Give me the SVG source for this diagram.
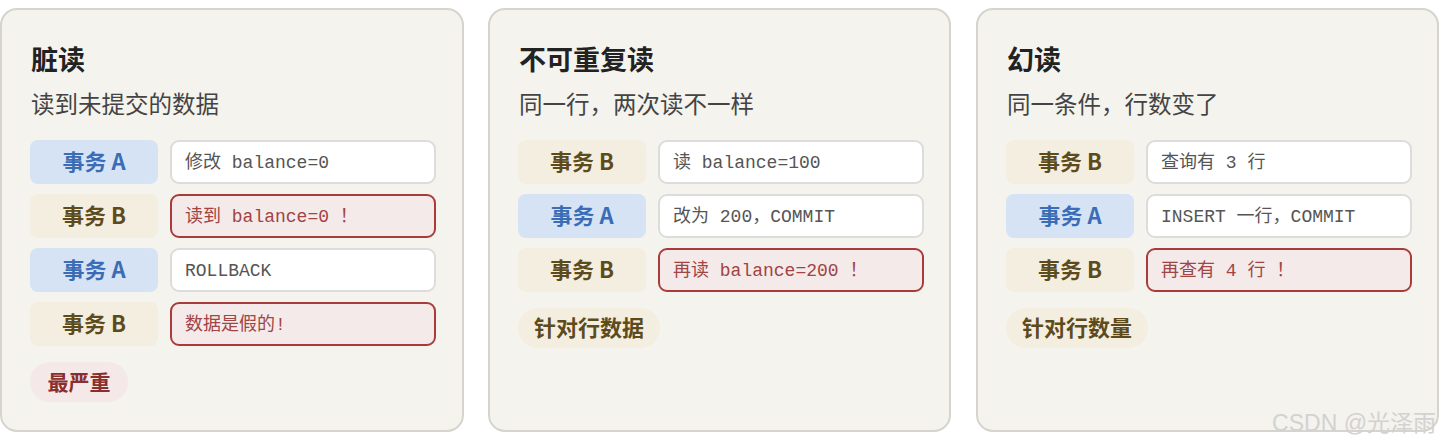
<svg xmlns="http://www.w3.org/2000/svg" width="1440" height="448" viewBox="0 0 1440 448">
<style>
.card{fill:#f4f3ed;stroke:#d6d4cc;stroke-width:2}
.title{font-family:"Noto Sans CJK SC",sans-serif;font-size:27px;font-weight:700;fill:#222}
.sub{font-family:"Noto Sans CJK SC",sans-serif;font-size:23.5px;fill:#444}
.tagA{fill:#d6e3f4}
.tagB{fill:#f4eee0}
.tA{font-family:"Noto Sans CJK SC",sans-serif;font-size:22px;font-weight:700;fill:#3a6db5;text-anchor:middle}
.tB{font-family:"Noto Sans CJK SC",sans-serif;font-size:22px;font-weight:700;fill:#5e4b1c;text-anchor:middle}
.box{fill:#fff;stroke:#dcdcdc;stroke-width:2}
.bad{fill:#f5eaea;stroke:#a83c3a;stroke-width:2}
.code{font-family:"Liberation Mono","Noto Sans CJK SC",monospace;font-size:18px;fill:#555}
.codeR{font-family:"Liberation Mono","Noto Sans CJK SC",monospace;font-size:18px;fill:#a04444}
.pillR{fill:#f5e8e8}
.pillB{fill:#f4eee0}
.pR{font-family:"Noto Sans CJK SC",sans-serif;font-size:21px;font-weight:700;fill:#8b2e2e;text-anchor:middle}
.pB{font-family:"Noto Sans CJK SC",sans-serif;font-size:22px;font-weight:700;fill:#5e4b1c;text-anchor:middle}
.wm{font-family:"Liberation Sans","Noto Sans CJK SC",sans-serif;font-size:23px;fill:#d2d2d2;text-anchor:end}
</style>
<g id="dirty-read">
<rect class="card" x="1" y="9" width="462" height="422" rx="16"/>
<text class="title" x="31" y="70">脏读</text>
<text class="sub" x="31" y="113">读到未提交的数据</text>
<rect class="tagA" x="30" y="140" width="128" height="44" rx="8"/>
<text class="tA" x="94" y="170">事务 A</text>
<rect class="box" x="171" y="141" width="264" height="42" rx="8"/>
<text class="code" x="185" y="168">修改 balance=0</text>
<rect class="tagB" x="30" y="194" width="128" height="44" rx="8"/>
<text class="tB" x="94" y="224">事务 B</text>
<rect class="bad" x="171" y="195" width="264" height="42" rx="8"/>
<text class="codeR" x="185" y="222">读到 balance=0 ！</text>
<rect class="tagA" x="30" y="248" width="128" height="44" rx="8"/>
<text class="tA" x="94" y="278">事务 A</text>
<rect class="box" x="171" y="249" width="264" height="42" rx="8"/>
<text class="code" x="185" y="276">ROLLBACK</text>
<rect class="tagB" x="30" y="302" width="128" height="44" rx="8"/>
<text class="tB" x="94" y="332">事务 B</text>
<rect class="bad" x="171" y="303" width="264" height="42" rx="8"/>
<text class="codeR" x="185" y="330">数据是假的!</text>
<rect class="pillR" x="30" y="362" width="98" height="40" rx="20"/>
<text class="pR" x="79" y="390">最严重</text>
</g>
<g id="non-repeatable-read">
<rect class="card" x="489" y="9" width="461" height="422" rx="16"/>
<text class="title" x="519" y="70">不可重复读</text>
<text class="sub" x="519" y="113">同一行，两次读不一样</text>
<rect class="tagB" x="518" y="140" width="128" height="44" rx="8"/>
<text class="tB" x="582" y="170">事务 B</text>
<rect class="box" x="659" y="141" width="264" height="42" rx="8"/>
<text class="code" x="673" y="168">读 balance=100</text>
<rect class="tagA" x="518" y="194" width="128" height="44" rx="8"/>
<text class="tA" x="582" y="224">事务 A</text>
<rect class="box" x="659" y="195" width="264" height="42" rx="8"/>
<text class="code" x="673" y="222">改为 200，COMMIT</text>
<rect class="tagB" x="518" y="248" width="128" height="44" rx="8"/>
<text class="tB" x="582" y="278">事务 B</text>
<rect class="bad" x="659" y="249" width="264" height="42" rx="8"/>
<text class="codeR" x="673" y="276">再读 balance=200 ！</text>
<rect class="pillB" x="518" y="308" width="142" height="40" rx="20"/>
<text class="pB" x="589" y="336">针对行数据</text>
</g>
<g id="phantom-read">
<rect class="card" x="977" y="9" width="461" height="422" rx="16"/>
<text class="title" x="1007" y="70">幻读</text>
<text class="sub" x="1007" y="113">同一条件，行数变了</text>
<rect class="tagB" x="1006" y="140" width="128" height="44" rx="8"/>
<text class="tB" x="1070" y="170">事务 B</text>
<rect class="box" x="1147" y="141" width="264" height="42" rx="8"/>
<text class="code" x="1161" y="168">查询有 3 行</text>
<rect class="tagA" x="1006" y="194" width="128" height="44" rx="8"/>
<text class="tA" x="1070" y="224">事务 A</text>
<rect class="box" x="1147" y="195" width="264" height="42" rx="8"/>
<text class="code" x="1161" y="222">INSERT 一行，COMMIT</text>
<rect class="tagB" x="1006" y="248" width="128" height="44" rx="8"/>
<text class="tB" x="1070" y="278">事务 B</text>
<rect class="bad" x="1147" y="249" width="264" height="42" rx="8"/>
<text class="codeR" x="1161" y="276">再查有 4 行 ！</text>
<rect class="pillB" x="1006" y="308" width="142" height="40" rx="20"/>
<text class="pB" x="1077" y="336">针对行数量</text>
</g>
<g id="connectors"/>
<text class="wm" x="1436" y="431">CSDN @光泽雨</text>
</svg>
